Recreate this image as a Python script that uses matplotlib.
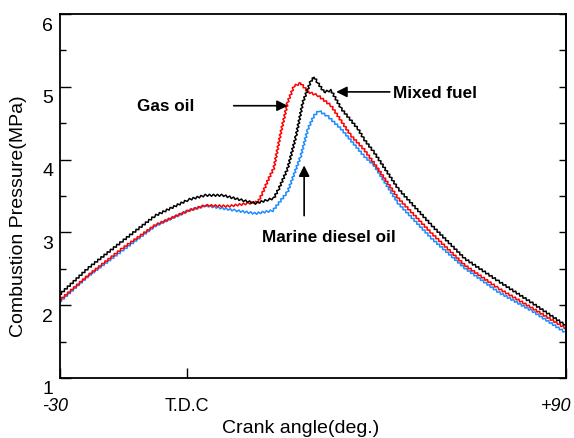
import numpy as np
import matplotlib.pyplot as plt
import matplotlib.transforms as mtransforms
from matplotlib.ticker import MultipleLocator

plt.rcParams['font.family'] = ['Liberation Sans', 'DejaVu Sans']

# Crank angle (deg) / combustion pressure (MPa) for each fuel
ang_mixed = [-30, -23.3, -15.2, -7.4, 0.5, 4.5, 8.6, 13.3, 16.4, 19.5, 20.7, 21.9, 24, 26,
             27.6, 29.5, 30.3, 31.2, 32.6, 34.3, 36.7, 40.7, 42.1, 44.5, 50.2, 58.1, 66, 74, 82, 90]
p_mixed = [2.15, 2.51, 2.88, 3.23, 3.45, 3.51, 3.51, 3.44, 3.40, 3.45, 3.47, 3.60, 3.88, 4.33,
           4.79, 5.08, 5.13, 5.05, 4.93, 4.95, 4.70, 4.42, 4.28, 4.10, 3.60, 3.10, 2.64, 2.33, 2.03, 1.72]

ang_gas = [-30, -23.3, -15.2, -7.4, 0.5, 4.5, 10, 14.8, 17, 18.1, 19.5, 20.7, 22.4, 24,
           25.5, 27.1, 28.8, 31.2, 34.3, 39, 42.1, 44.5, 50.2, 58.1, 66, 74, 82, 90]
p_gas = [2.07, 2.41, 2.78, 3.10, 3.30, 3.37, 3.36, 3.40, 3.42, 3.55, 3.74, 3.88, 4.38, 4.79,
         5.01, 5.05, 4.93, 4.88, 4.74, 4.33, 4.14, 3.95, 3.47, 2.99, 2.55, 2.23, 1.96, 1.68]

ang_mdo = [-30, -23.3, -15.2, -7.4, 0.5, 4.5, 11.7, 16.4, 20.5, 23.6, 24, 27.1, 28.8, 30.2,
           31.4, 33.6, 36.7, 42.1, 44.5, 50.2, 58.1, 66, 74, 82, 90]
p_mdo = [2.05, 2.40, 2.75, 3.09, 3.30, 3.37, 3.30, 3.26, 3.30, 3.53, 3.56, 4.05, 4.42, 4.60,
         4.67, 4.59, 4.42, 4.05, 3.92, 3.40, 2.92, 2.51, 2.18, 1.92, 1.62]

x_ticks = [-30, 0, 90]
x_labels = ['-30', 'T.D.C', '+90']

fig = plt.figure(figsize=(5.74, 4.39), dpi=100)
ax = fig.add_axes([60 / 574, 60 / 439, 506 / 574, 364 / 439])

for a, p, c in [(ang_mdo, p_mdo, '#1e8cff'), (ang_gas, p_gas, 'red'), (ang_mixed, p_mixed, 'black')]:
    line, = ax.plot(a, p, color=c, lw=1.1)
    line.set_sketch_params(scale=1.0, length=4, randomness=1)

ax.set_xlim(-30, 90)
ax.set_ylim(1, 6)
ax.yaxis.set_major_locator(MultipleLocator(1))
ax.yaxis.set_minor_locator(MultipleLocator(0.5))
ax.tick_params(axis='y', which='major', direction='in', length=8, width=1, labelsize=14, pad=5)
ax.tick_params(axis='y', which='minor', direction='in', length=4, width=1)
ax.set_xticks(x_ticks)
ax.set_xticklabels(x_labels, fontsize=13)
ax.tick_params(axis='x', direction='in', length=7, width=1, pad=14)

def shift(label, dx, dy):
    label.set_transform(label.get_transform() +
                        mtransforms.ScaledTranslation(dx / 100, dy / 100, fig.dpi_scale_trans))

# y labels sit a little below their ticks
for lab in ax.get_yticklabels():
    shift(lab, 0, -9)

tl = ax.get_xticklabels()
tl[0].set_style('italic')
tl[2].set_style('italic')
shift(tl[0], -5, 0)
shift(tl[2], -10, 0)

sec = ax.secondary_yaxis('right')
sec.set_yticks(np.arange(1, 6.01, 0.5))
sec.tick_params(direction='in', length=5, width=1, labelright=False)
sec.spines['right'].set_linewidth(1.3)

for s in ax.spines.values():
    s.set_linewidth(1.3)

ax.set_xlabel('Crank angle(deg.)', fontsize=14)
ax.xaxis.set_label_coords(241 / 506, -41 / 364)
ax.set_ylabel('Combustion Pressure(MPa)', fontsize=14)
ax.yaxis.set_label_coords(-33 / 506, 163 / 364)

bold = dict(fontsize=12.3, fontweight='bold')
arrow = dict(arrowstyle='-|>', color='black', lw=1.2, mutation_scale=16, shrinkA=0, shrinkB=0)
ax.text(-5.0, 4.74, 'Gas oil', ha='center', va='center', **bold)
ax.annotate('', xy=(24.0, 4.74), xytext=(11.2, 4.74), arrowprops=arrow)
ax.text(49.0, 4.92, 'Mixed fuel', ha='left', va='center', **bold)
ax.annotate('', xy=(35.5, 4.93), xytext=(48.2, 4.93), arrowprops=arrow)
ax.text(33.8, 2.95, 'Marine diesel oil', ha='center', va='center', **bold)
ax.annotate('', xy=(27.9, 3.92), xytext=(27.9, 3.23), arrowprops=arrow)

fig.savefig('out.png', dpi=100)
